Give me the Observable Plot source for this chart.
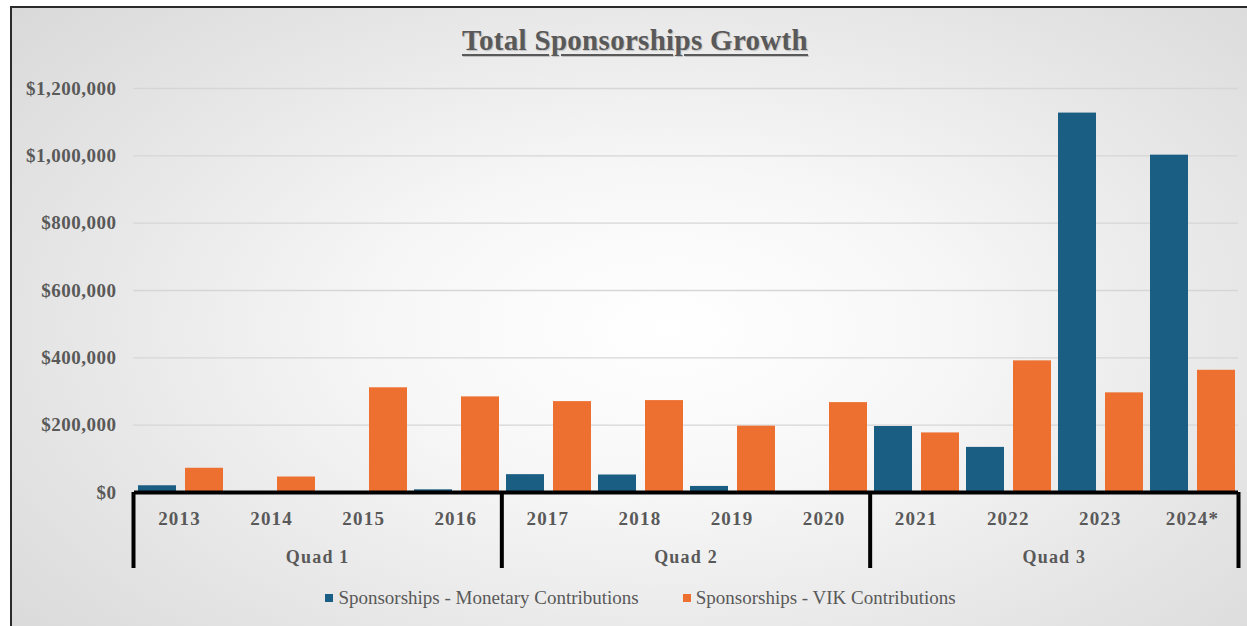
<!DOCTYPE html>
<html>
<head>
<meta charset="utf-8">
<script src="https://cdn.jsdelivr.net/npm/d3@7"></script>
<script src="https://cdn.jsdelivr.net/npm/@observablehq/plot@0.6"></script>
<style>
  html, body { margin: 0; padding: 0; background: #ffffff; }
  #wrap { position: relative; width: 1247px; height: 626px; overflow: hidden; }
  #bg { position: absolute; left: 10px; top: 6px; right: 0; bottom: 0;
        border-left: 2px solid #2b2b2b; border-top: 2px solid #2b2b2b;
        background: radial-gradient(ellipse 75% 85% at 53% 52%, #ffffff 0%, #f7f7f7 30%, #e6e6e6 65%, #d6d6d6 100%); }
  .layer { position: absolute; left: 0; top: 0; }
  #title { position: absolute; left: 0; width: 1270px; top: 24px; text-align: center;
           font-family: "Liberation Serif", serif; font-weight: bold; font-size: 29px; color: #595959;
           letter-spacing: 0.3px;
           text-decoration: underline; text-decoration-thickness: 2px; text-underline-offset: 4px;
           text-shadow: 1px 1px 1px rgba(0,0,0,0.18); }
  #legend { position: absolute; left: 0; width: 1281px; top: 585px; text-align: center;
            font-family: "Liberation Serif", serif; font-size: 19px; color: #595959; white-space: nowrap; }
  .item { display: inline-flex; align-items: center; margin: 0 22px; }
  .sw { width: 8px; height: 8px; margin-right: 5px; display: inline-block; }
</style>
</head>
<body>
<div id="wrap">
  <div id="bg"></div>
  <div id="layerA" class="layer"></div>
  <div id="layerB" class="layer"></div>
  <div id="layerC" class="layer"></div>
  <div id="title">Total Sponsorships Growth</div>
  <div id="legend"></div>
</div>
<script>
// ---- data ----
const title = "Total Sponsorships Growth";
const years = ["2013","2014","2015","2016","2017","2018","2019","2020","2021","2022","2023","2024*"];
const quadOfYear = ["Quad 1","Quad 1","Quad 1","Quad 1","Quad 2","Quad 2","Quad 2","Quad 2","Quad 3","Quad 3","Quad 3","Quad 3"];
const quadLabels = ["Quad 1","Quad 2","Quad 3"];
const seriesNames = ["Sponsorships - Monetary Contributions", "Sponsorships - VIK Contributions"];
const monetary = [20000, 0, 0, 8000, 53000, 52000, 18000, 0, 196000, 134000, 1127000, 1002000];
const vik = [72000, 46000, 311000, 284000, 270000, 273000, 197000, 267000, 177000, 391000, 296000, 363000];
const yTicks = [0, 200000, 400000, 600000, 800000, 1000000, 1200000];
const colors = ["#1a5e83", "#ed7030"];

// ---- derived ----
const rows = years.flatMap((y, i) => [
  {year: y, series: seriesNames[0], value: monetary[i]},
  {year: y, series: seriesNames[1], value: vik[i]}
]);
const idx = years.map((y, i) => ({year: y, i}));
const quads = quadLabels.map(q => {
  const is = idx.filter(d => quadOfYear[d.i] === q).map(d => d.i);
  return {q, start: d3.min(is), end: d3.max(is) + 1};
});
const boundaries = [0, ...quads.map(d => d.end)];

const W = 1247, H = 626;
const font = "Liberation Serif, serif";
const grey = "#595959";
const fmt = d => "$" + d3.format(",")(d);

// Layer A: gridlines and y labels
const plotA = Plot.plot({
  width: W, height: H,
  marginLeft: 133, marginRight: 9, marginTop: 88, marginBottom: 134,
  x: {domain: [0, years.length], axis: null},
  y: {domain: [0, 1200000], axis: null},
  style: {background: "none", overflow: "visible", letterSpacing: "0.5px"},
  marks: [
    Plot.gridY(yTicks.filter(d => d > 0), {stroke: "#d6d6d6", strokeOpacity: 1, strokeWidth: 1.3}),
    Plot.axisY(yTicks, {tickSize: 0, tickPadding: 17, tickFormat: fmt, fontSize: 19, fontWeight: "bold",
      fontFamily: font, fill: grey})
  ]
});
document.getElementById("layerA").appendChild(plotA);

// Layer B: bars and axis line
const plotB = Plot.plot({
  width: W, height: H,
  marginLeft: 133, marginRight: 9, marginTop: 88, marginBottom: 134,
  fx: {domain: years, padding: 0, axis: null},
  x: {domain: seriesNames, paddingInner: 0.2, paddingOuter: 0.06, axis: null},
  y: {domain: [0, 1200000], axis: null},
  color: {domain: seriesNames, range: colors},
  style: {background: "none", overflow: "visible"},
  marks: [
    Plot.barY(rows, {fx: "year", x: "series", y: "value", fill: "series"}),
    Plot.ruleY([0], {stroke: "#000", strokeWidth: 4})
  ]
});
document.getElementById("layerB").appendChild(plotB);

// Layer C: category brackets, year labels, quad labels (frame = strip under the axis)
const plotC = Plot.plot({
  width: W, height: H,
  marginLeft: 133, marginRight: 9, marginTop: 492, marginBottom: 58,
  x: {domain: [0, years.length], axis: null},
  y: {axis: null},
  style: {background: "none", overflow: "visible", letterSpacing: "1.2px"},
  marks: [
    Plot.ruleX(boundaries, {x: d => d, stroke: "#000", strokeWidth: 4}),
    Plot.text(idx, {x: d => d.i + 0.5, frameAnchor: "top", lineAnchor: "middle", text: "year", dy: 26,
      fontSize: 19, fontWeight: "bold", fontFamily: font, fill: grey}),
    Plot.text(quads, {x: d => (d.start + d.end) / 2, frameAnchor: "top", lineAnchor: "middle", text: "q", dy: 65,
      fontSize: 18, fontWeight: "bold", fontFamily: font, fill: grey, style: "letter-spacing:0.3px"})
  ]
});
document.getElementById("layerC").appendChild(plotC);

// Legend
const legend = document.getElementById("legend");
seriesNames.forEach((s, i) => {
  const item = document.createElement("span");
  item.className = "item";
  const sw = document.createElement("span");
  sw.className = "sw";
  sw.style.background = colors[i];
  item.appendChild(sw);
  item.appendChild(document.createTextNode(s));
  legend.appendChild(item);
});
document.getElementById("title").textContent = title;
</script>
</body>
</html>
